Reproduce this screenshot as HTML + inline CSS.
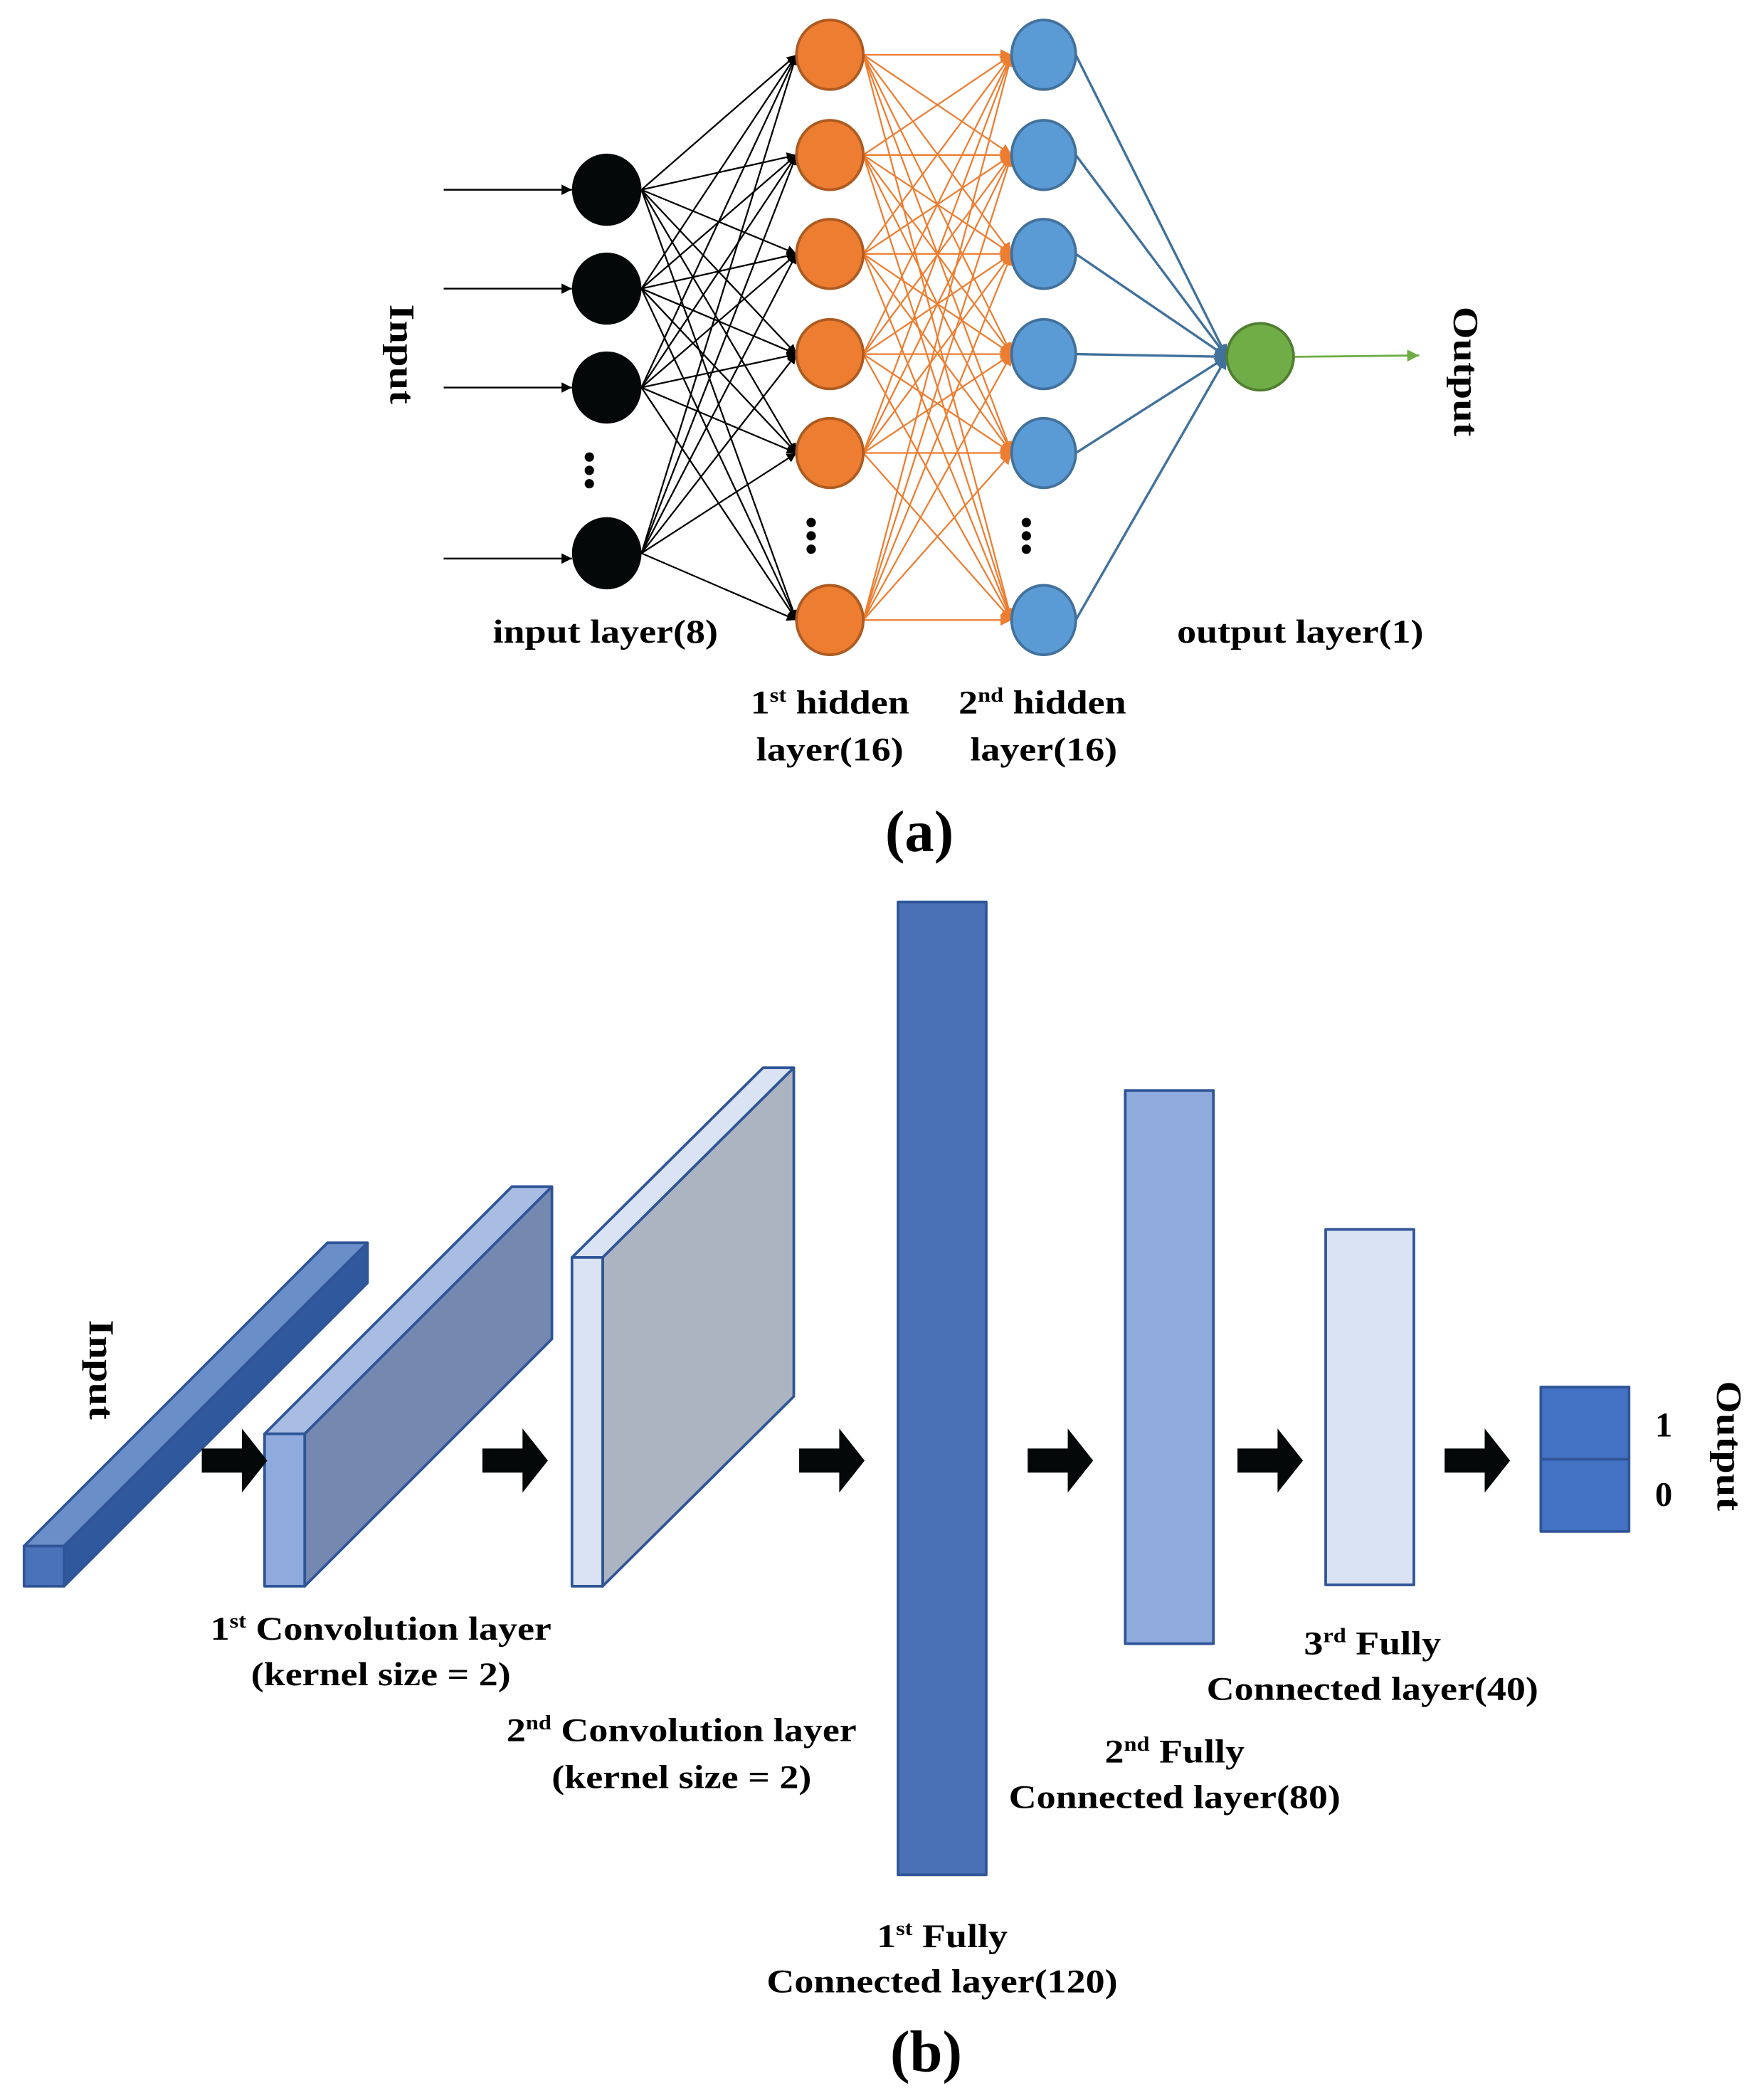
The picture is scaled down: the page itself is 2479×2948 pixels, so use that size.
<!DOCTYPE html>
<html><head><meta charset="utf-8"><style>html,body{margin:0;padding:0;background:#fff}svg{display:block}</style></head>
<body>
<svg width="2479" height="2948" viewBox="0 0 1320 1570" preserveAspectRatio="none" xmlns="http://www.w3.org/2000/svg" font-family="Liberation Serif, serif" font-weight="bold">
<defs>
<marker id="mk" viewBox="0 0 10 10" refX="10" refY="5" markerWidth="6" markerHeight="6" orient="auto"><path d="M0,0L10,5L0,10z" fill="#000"/></marker>
<marker id="mo" viewBox="0 0 10 10" refX="10" refY="5" markerWidth="7" markerHeight="7" orient="auto"><path d="M0,0L10,5L0,10z" fill="#ed7d31"/></marker>
<marker id="mb" viewBox="0 0 10 10" refX="10" refY="5" markerWidth="5" markerHeight="5" orient="auto"><path d="M0,0L10,5L0,10z" fill="#41719c"/></marker>
<marker id="mg" viewBox="0 0 10 10" refX="10" refY="5" markerWidth="6" markerHeight="6" orient="auto"><path d="M0,0L10,5L0,10z" fill="#70ad47"/></marker>
</defs>
<g stroke="#000" stroke-width="1.3" marker-end="url(#mk)">
<line x1="332" y1="142" x2="428" y2="142"/><line x1="332" y1="216" x2="428" y2="216"/><line x1="332" y1="290" x2="428" y2="290"/><line x1="332" y1="418" x2="428" y2="418"/>
</g>
<g stroke="#000" stroke-width="1.2" marker-end="url(#mk)">
<line x1="480" y1="142" x2="596" y2="41"/><line x1="480" y1="142" x2="596" y2="116"/><line x1="480" y1="142" x2="596" y2="190"/><line x1="480" y1="142" x2="596" y2="265"/><line x1="480" y1="142" x2="596" y2="339"/><line x1="480" y1="142" x2="596" y2="464"/>
<line x1="480" y1="216" x2="596" y2="41"/><line x1="480" y1="216" x2="596" y2="116"/><line x1="480" y1="216" x2="596" y2="190"/><line x1="480" y1="216" x2="596" y2="265"/><line x1="480" y1="216" x2="596" y2="339"/><line x1="480" y1="216" x2="596" y2="464"/>
<line x1="480" y1="290" x2="596" y2="41"/><line x1="480" y1="290" x2="596" y2="116"/><line x1="480" y1="290" x2="596" y2="190"/><line x1="480" y1="290" x2="596" y2="265"/><line x1="480" y1="290" x2="596" y2="339"/><line x1="480" y1="290" x2="596" y2="464"/>
<line x1="480" y1="414" x2="596" y2="41"/><line x1="480" y1="414" x2="596" y2="116"/><line x1="480" y1="414" x2="596" y2="190"/><line x1="480" y1="414" x2="596" y2="265"/><line x1="480" y1="414" x2="596" y2="339"/><line x1="480" y1="414" x2="596" y2="464"/>
</g>
<g stroke="#ed7d31" stroke-width="1.2" marker-end="url(#mo)">
<line x1="646" y1="41" x2="757" y2="41"/><line x1="646" y1="41" x2="757" y2="116"/><line x1="646" y1="41" x2="757" y2="190"/><line x1="646" y1="41" x2="757" y2="265"/><line x1="646" y1="41" x2="757" y2="339"/><line x1="646" y1="41" x2="757" y2="464"/>
<line x1="646" y1="116" x2="757" y2="41"/><line x1="646" y1="116" x2="757" y2="116"/><line x1="646" y1="116" x2="757" y2="190"/><line x1="646" y1="116" x2="757" y2="265"/><line x1="646" y1="116" x2="757" y2="339"/><line x1="646" y1="116" x2="757" y2="464"/>
<line x1="646" y1="190" x2="757" y2="41"/><line x1="646" y1="190" x2="757" y2="116"/><line x1="646" y1="190" x2="757" y2="190"/><line x1="646" y1="190" x2="757" y2="265"/><line x1="646" y1="190" x2="757" y2="339"/><line x1="646" y1="190" x2="757" y2="464"/>
<line x1="646" y1="265" x2="757" y2="41"/><line x1="646" y1="265" x2="757" y2="116"/><line x1="646" y1="265" x2="757" y2="190"/><line x1="646" y1="265" x2="757" y2="265"/><line x1="646" y1="265" x2="757" y2="339"/><line x1="646" y1="265" x2="757" y2="464"/>
<line x1="646" y1="339" x2="757" y2="41"/><line x1="646" y1="339" x2="757" y2="116"/><line x1="646" y1="339" x2="757" y2="190"/><line x1="646" y1="339" x2="757" y2="265"/><line x1="646" y1="339" x2="757" y2="339"/><line x1="646" y1="339" x2="757" y2="464"/>
<line x1="646" y1="464" x2="757" y2="41"/><line x1="646" y1="464" x2="757" y2="116"/><line x1="646" y1="464" x2="757" y2="190"/><line x1="646" y1="464" x2="757" y2="265"/><line x1="646" y1="464" x2="757" y2="339"/><line x1="646" y1="464" x2="757" y2="464"/>
</g>
<g stroke="#41719c" stroke-width="1.8" marker-end="url(#mb)">
<line x1="805" y1="41" x2="918" y2="267"/><line x1="805" y1="116" x2="918" y2="267"/><line x1="805" y1="190" x2="918" y2="267"/><line x1="805" y1="265" x2="918" y2="267"/><line x1="805" y1="339" x2="918" y2="267"/><line x1="805" y1="464" x2="918" y2="267"/>
</g>
<line x1="968" y1="267" x2="1062" y2="266" stroke="#70ad47" stroke-width="1.5" marker-end="url(#mg)"/>
<g fill="#050808">
<ellipse cx="454" cy="142" rx="26" ry="27"/><ellipse cx="454" cy="216" rx="26" ry="27"/><ellipse cx="454" cy="290" rx="26" ry="27"/><ellipse cx="454" cy="414" rx="26" ry="27"/>
</g>
<g fill="#ed7d31" stroke="#ae5a21" stroke-width="2">
<ellipse cx="621" cy="41" rx="25" ry="26"/><ellipse cx="621" cy="116" rx="25" ry="26"/><ellipse cx="621" cy="190" rx="25" ry="26"/><ellipse cx="621" cy="265" rx="25" ry="26"/><ellipse cx="621" cy="339" rx="25" ry="26"/><ellipse cx="621" cy="464" rx="25" ry="26"/>
</g>
<g fill="#5b9bd5" stroke="#41719c" stroke-width="2">
<ellipse cx="781" cy="41" rx="24" ry="26"/><ellipse cx="781" cy="116" rx="24" ry="26"/><ellipse cx="781" cy="190" rx="24" ry="26"/><ellipse cx="781" cy="265" rx="24" ry="26"/><ellipse cx="781" cy="339" rx="24" ry="26"/><ellipse cx="781" cy="464" rx="24" ry="26"/>
</g>
<ellipse cx="943" cy="267" rx="25" ry="25" fill="#70ad47" stroke="#507e32" stroke-width="2"/>
<g fill="#000">
<circle cx="441" cy="342" r="3.5"/><circle cx="441" cy="352" r="3.5"/><circle cx="441" cy="362" r="3.5"/>
<circle cx="607" cy="391" r="3.5"/><circle cx="607" cy="401" r="3.5"/><circle cx="607" cy="411" r="3.5"/>
<circle cx="768" cy="391" r="3.5"/><circle cx="768" cy="401" r="3.5"/><circle cx="768" cy="411" r="3.5"/>
</g>
<g fill="#000" font-size="25" text-anchor="middle">
<text transform="translate(292,265) rotate(90) scale(1.25,1.05)">Input</text>
<text transform="translate(1088,278) rotate(90) scale(1.25,1.05)">Output</text>
<text transform="translate(453,481) scale(1.15,1)">input layer(8)</text>
<text transform="translate(973,481) scale(1.15,1)">output layer(1)</text>
<text transform="translate(621,534) scale(1.15,1)">1<tspan font-size="15" dy="-9">st</tspan><tspan dy="9"> hidden</tspan></text>
<text transform="translate(621,569) scale(1.15,1)">layer(16)</text>
<text transform="translate(780,534) scale(1.15,1)">2<tspan font-size="15" dy="-9">nd</tspan><tspan dy="9"> hidden</tspan></text>
<text transform="translate(781,569) scale(1.15,1)">layer(16)</text>
<text x="688" y="637" font-size="44">(a)</text>
</g>
<g stroke="#2f5597" stroke-width="2" stroke-linejoin="round">
<polygon points="18,1157 48,1157 275,930 245,930" fill="#6a8ec8"/>
<polygon points="48,1157 48,1187 275,960 275,930" fill="#30589c"/>
<rect x="18" y="1157" width="30" height="30" fill="#4a72b8"/>
<polygon points="198,1073 228,1073 413,888 383,888" fill="#a9bde3"/>
<polygon points="228,1073 228,1187 413,1002 413,888" fill="#7488b0"/>
<rect x="198" y="1073" width="30" height="114" fill="#8faadc"/>
<polygon points="428,941 451,941 594,799 571,799" fill="#dae3f3"/>
<polygon points="451,941 451,1187 594,1045 594,799" fill="#adb4c1"/>
<rect x="428" y="941" width="23" height="246" fill="#dae3f3"/>
<rect x="672" y="675" width="66" height="728" fill="#4a70b5"/>
<rect x="842" y="816" width="66" height="414" fill="#8faadc"/>
<rect x="992" y="920" width="66" height="266" fill="#dae3f3"/>
<rect x="1153" y="1038" width="66" height="108" fill="#4472c4"/>
<line x1="1153" y1="1092" x2="1219" y2="1092"/>
</g>
<g fill="#050808">
<polygon points="151,1084 181,1084 181,1069 200,1093 181,1117 181,1102 151,1102"/>
<polygon points="361,1084 391,1084 391,1069 410,1093 391,1117 391,1102 361,1102"/>
<polygon points="598,1084 628,1084 628,1069 647,1093 628,1117 628,1102 598,1102"/>
<polygon points="769,1084 799,1084 799,1069 818,1093 799,1117 799,1102 769,1102"/>
<polygon points="926,1084 956,1084 956,1069 975,1093 956,1117 956,1102 926,1102"/>
<polygon points="1081,1084 1111,1084 1111,1069 1130,1093 1111,1117 1111,1102 1081,1102"/>
</g>
<g fill="#000" font-size="25" text-anchor="middle">
<text transform="translate(67,1025) rotate(90) scale(1.25,1.05)">Input</text>
<text transform="translate(1285,1082) rotate(90) scale(1.25,1.05)">Output</text>
<text x="1245" y="1075" font-size="26">1</text>
<text x="1245" y="1127" font-size="26">0</text>
<text transform="translate(285,1227) scale(1.15,1)">1<tspan font-size="15" dy="-9">st</tspan><tspan dy="9"> Convolution layer</tspan></text>
<text transform="translate(285,1261) scale(1.15,1)">(kernel size = 2)</text>
<text transform="translate(510,1303) scale(1.15,1)">2<tspan font-size="15" dy="-9">nd</tspan><tspan dy="9"> Convolution layer</tspan></text>
<text transform="translate(510,1338) scale(1.15,1)">(kernel size = 2)</text>
<text transform="translate(705,1457) scale(1.15,1)">1<tspan font-size="15" dy="-9">st</tspan><tspan dy="9"> Fully</tspan></text>
<text transform="translate(705,1491) scale(1.15,1)">Connected layer(120)</text>
<text transform="translate(879,1319) scale(1.15,1)">2<tspan font-size="15" dy="-9">nd</tspan><tspan dy="9"> Fully</tspan></text>
<text transform="translate(879,1353) scale(1.15,1)">Connected layer(80)</text>
<text transform="translate(1027,1238) scale(1.15,1)">3<tspan font-size="15" dy="-9">rd</tspan><tspan dy="9"> Fully</tspan></text>
<text transform="translate(1027,1272) scale(1.15,1)">Connected layer(40)</text>
<text x="693" y="1550" font-size="44">(b)</text>
</g>
</svg>
</body></html>
